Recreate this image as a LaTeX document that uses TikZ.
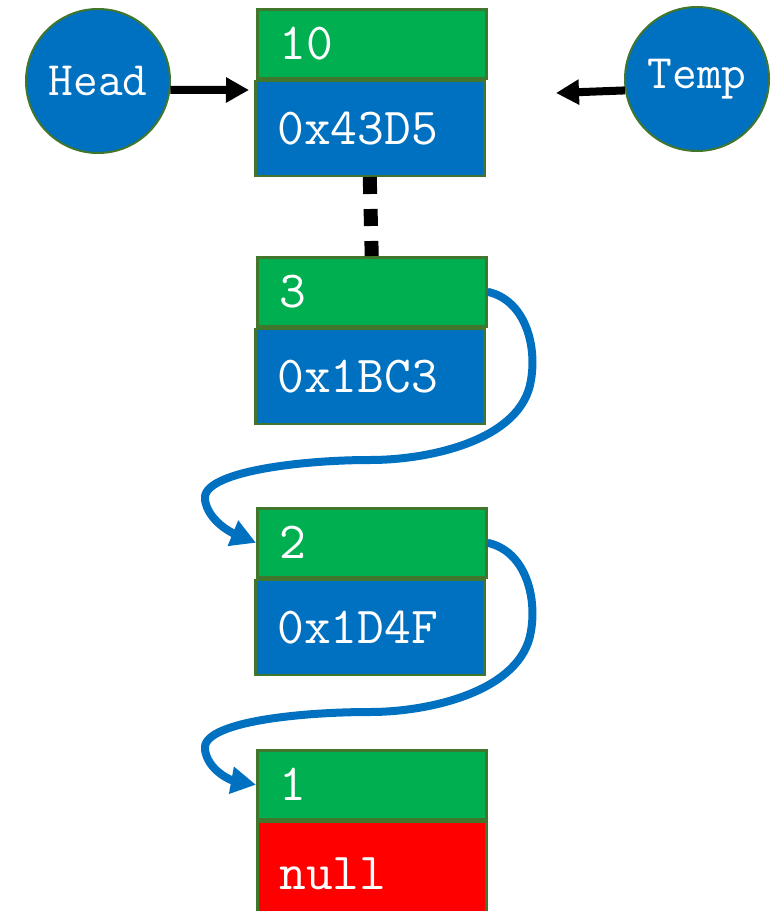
\documentclass[tikz,border=0pt]{standalone}
\usepackage{fontspec}
\usetikzlibrary{positioning,arrows.meta}
\definecolor{cellgreen}{HTML}{00B050}
\definecolor{cellblue}{HTML}{0070C0}
\definecolor{cellred}{HTML}{FF0000}
\definecolor{rimgreen}{HTML}{41772C}
\tikzstyle{cell} = [rectangle, draw=rimgreen, line width=2.5pt, text=white,
    font=\ttfamily\fontsize{52}{56}\selectfont, text width=185pt,
    inner xsep=22pt, inner ysep=0pt, align=left, anchor=north west]
\tikzstyle{pointer} = [circle, draw=rimgreen, line width=2pt, fill=cellblue,
    text=white, font=\ttfamily\fontsize{48}{52}\selectfont, minimum size=144pt, inner sep=0pt]
\tikzstyle{line} = [draw, line width=8pt, -{Triangle[length=23pt,width=24pt]}]
\tikzstyle{link} = [draw=cellblue, line width=8pt, -{Triangle[length=25pt,width=26pt]}]

\begin{document}
\begin{tikzpicture}[x=1pt, y=-1pt]
  \useasboundingbox (0,0) rectangle (777,911);
   % Place nodes
    \node [cell, fill=cellgreen, minimum height=69pt] (v1) at (256,8) {10};
    \node [cell, fill=cellblue, minimum height=95pt, below=0pt of v1, xshift=-2pt] (p1) {0x43D5};
    \node [cell, fill=cellgreen, minimum height=69pt] (v2) at (256,256) {3};
    \node [cell, fill=cellblue, minimum height=95pt, below=0pt of v2, xshift=-2pt] (p2) {0x1BC3};
    \node [cell, fill=cellgreen, minimum height=69pt] (v3) at (256,507) {2};
    \node [cell, fill=cellblue, minimum height=95pt, below=0pt of v3, xshift=-2pt] (p3) {0x1D4F};
    \node [cell, fill=cellgreen, minimum height=69pt] (v4) at (256,749) {1};
    \node [cell, fill=cellred, minimum height=105pt, below=0pt of v4] (p4) {null};
    \node [pointer] (head) at (98,81) {Head};
    \node [pointer] (temp) at (697,79) {Temp};
    \coordinate (headend) at (249,90);
    \coordinate (tempend) at (556,93);
   % Draw edges
    \path [line] (head.-7) -- (headend);
    \path [line] (temp.189) -- (tempend);
    \draw [line width=14pt, dash pattern=on 17pt off 15pt] (p1.south) -- (v2.north);
    \path [link] (v2.east) .. controls (525,300) and (537,345) .. (531,380)
        .. controls (522,440) and (430,460) .. (370,460)
        .. controls (300,460) and (200,472) .. (205,500)
        .. controls (208,520) and (230,532) .. (v3.west);
    \path [link] (v3.east) .. controls (525,551) and (537,596) .. (531,631)
        .. controls (522,691) and (430,712) .. (370,712)
        .. controls (300,712) and (200,722) .. (205,750)
        .. controls (208,770) and (230,780) .. (v4.west);
  \end{tikzpicture}
\end{document}
